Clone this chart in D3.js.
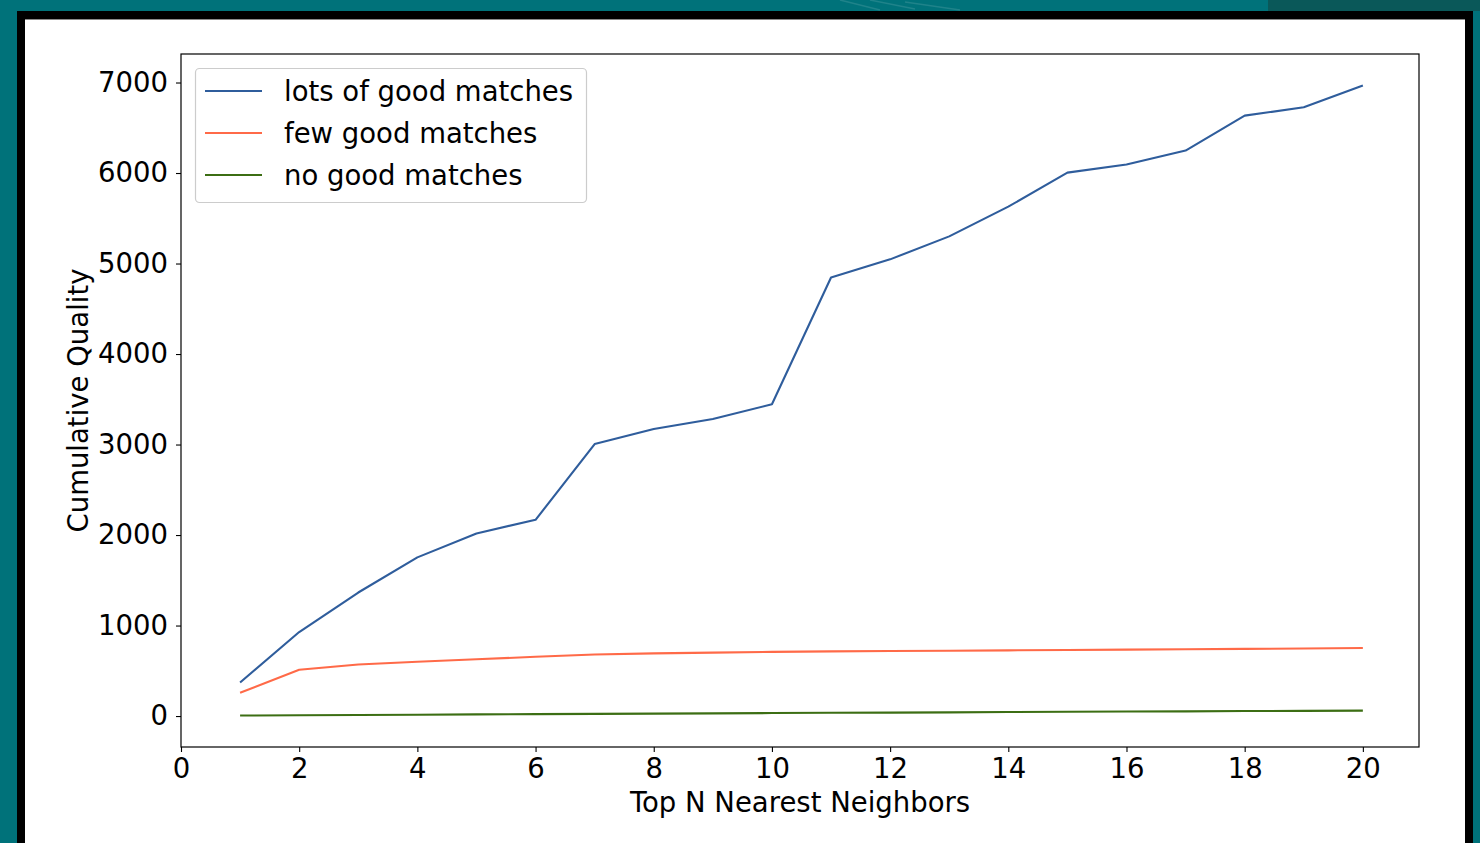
<!DOCTYPE html>
<html>
<head>
<meta charset="utf-8">
<script src="https://cdn.jsdelivr.net/npm/d3@7"></script>
<style>
  html, body { margin: 0; padding: 0; background: #00727a; }
  svg { display: block; }
  text { font-family: "DejaVu Sans", sans-serif; fill: #000; }
</style>
</head>
<body>
<svg id="chart" width="1480" height="843"></svg>
<script>
// Number of nearest neighbours considered
const neighbors = [1, 2, 3, 4, 5, 6, 7, 8, 9, 10, 11, 12, 13, 14, 15, 16, 17, 18, 19, 20];

// Cumulative quality per query type
const lotsOfGoodMatches = [370, 928, 1365, 1753, 2018, 2168, 3005, 3172, 3283, 3445,
                           4845, 5046, 5300, 5628, 6004, 6094, 6248, 6634, 6726, 6967];
const fewGoodMatches    = [257, 512, 570, 600, 627, 655, 680, 692, 701, 709,
                           714, 718, 722, 726, 730, 734, 738, 742, 747, 751];
const noGoodMatches     = [6, 9, 12, 15, 18, 21, 24, 27, 30, 33,
                           36, 38, 41, 44, 47, 50, 52, 55, 57, 60];

const seriesNames  = ["lots of good matches", "few good matches", "no good matches"];
const seriesColors = ["#2f5d9c", "#ff6a48", "#3c6e14"];

const xTicks = [0, 2, 4, 6, 8, 10, 12, 14, 16, 18, 20];
const yTicks = [0, 1000, 2000, 3000, 4000, 5000, 6000, 7000];

const xLabel = "Top N Nearest Neighbors";
const yLabel = "Cumulative Quality";

const FONT_SIZE = 27.5;

const svg = d3.select("#chart");

// Slide frame: teal backdrop, black border, white panel
svg.append("rect").attr("x", 0).attr("y", 0).attr("width", 1480).attr("height", 843).attr("fill", "#00727a");
svg.append("rect").attr("x", 1268).attr("y", 0).attr("width", 212).attr("height", 11).attr("fill", "#0a5859");
[[840, 0, 880, 10], [870, 0, 915, 9], [905, 2, 960, 10]].forEach(d => {
  svg.append("line").attr("x1", d[0]).attr("y1", d[1]).attr("x2", d[2]).attr("y2", d[3])
    .attr("stroke", "#ffffff").attr("stroke-opacity", 0.12).attr("stroke-width", 1.5);
});
svg.append("rect").attr("x", 17).attr("y", 11).attr("width", 1456).attr("height", 900).attr("fill", "#000");
svg.append("rect").attr("x", 25).attr("y", 19).attr("width", 1440).attr("height", 900).attr("fill", "#fff");
svg.append("line").attr("x1", 25).attr("x2", 1465).attr("y1", 19.5).attr("y2", 19.5).attr("stroke", "#8a8a8a").attr("stroke-width", 1);

// Plot area
const plot = { left: 181, right: 1419, top: 54, bottom: 747 };

const allValues = lotsOfGoodMatches.concat(fewGoodMatches, noGoodMatches);
const yMin = d3.min(allValues), yMax = d3.max(allValues);
const yPad = (yMax - yMin) * 0.05;
const xMaxPad = d3.max(neighbors) + (d3.max(neighbors) - d3.min(neighbors)) * 0.05;

const x = d3.scaleLinear().domain([0, xMaxPad]).range([plot.left, plot.right]);
const y = d3.scaleLinear().domain([yMin - yPad, yMax + yPad]).range([plot.bottom, plot.top]);

// Lines
const seriesData = [lotsOfGoodMatches, fewGoodMatches, noGoodMatches];
const line = d3.line().x((d, i) => x(neighbors[i])).y(d => y(d));

const g = svg.append("g");
seriesData.forEach((vals, k) => {
  g.append("path")
    .datum(vals)
    .attr("d", line)
    .attr("fill", "none")
    .attr("stroke", seriesColors[k])
    .attr("stroke-width", 2.1)
    .attr("stroke-linejoin", "round");
});

// Axes
const xAxis = svg.append("g")
  .attr("transform", `translate(0,${plot.bottom})`)
  .call(d3.axisBottom(x).tickValues(xTicks).tickFormat(d3.format("d")).tickSize(5).tickPadding(6).tickSizeOuter(0));
const yAxis = svg.append("g")
  .attr("transform", `translate(${plot.left},0)`)
  .call(d3.axisLeft(y).tickValues(yTicks).tickFormat(d3.format("d")).tickSize(5).tickPadding(8).tickSizeOuter(0));

[xAxis, yAxis].forEach(a => {
  a.select(".domain").remove();
  a.selectAll(".tick line").attr("stroke", "#000").attr("stroke-width", 1.1);
  a.selectAll(".tick text").attr("font-family", "DejaVu Sans").attr("font-size", FONT_SIZE).attr("fill", "#000");
});

// Frame around the plot area
svg.append("rect")
  .attr("x", plot.left).attr("y", plot.top)
  .attr("width", plot.right - plot.left).attr("height", plot.bottom - plot.top)
  .attr("fill", "none").attr("stroke", "#000").attr("stroke-width", 1.2);

// Axis titles
svg.append("text")
  .attr("x", (plot.left + plot.right) / 2).attr("y", 812)
  .attr("text-anchor", "middle").attr("font-size", FONT_SIZE)
  .text(xLabel);
svg.append("text")
  .attr("transform", `translate(88,${(plot.top + plot.bottom) / 2}) rotate(-90)`)
  .attr("text-anchor", "middle").attr("font-size", FONT_SIZE)
  .text(yLabel);

// Legend
const legend = svg.append("g");
legend.append("rect")
  .attr("x", 195.5).attr("y", 68.5).attr("width", 391).attr("height", 134).attr("rx", 4)
  .attr("fill", "#fff").attr("fill-opacity", 0.8)
  .attr("stroke", "#cccccc").attr("stroke-width", 1.2);
seriesNames.forEach((name, k) => {
  const ry = 91 + k * 42;
  legend.append("line")
    .attr("x1", 205).attr("x2", 262).attr("y1", ry).attr("y2", ry)
    .attr("stroke", seriesColors[k]).attr("stroke-width", 2.1);
  legend.append("text")
    .attr("x", 284).attr("y", ry).attr("dy", "0.35em")
    .attr("font-size", FONT_SIZE)
    .text(name);
});
</script>
</body>
</html>
